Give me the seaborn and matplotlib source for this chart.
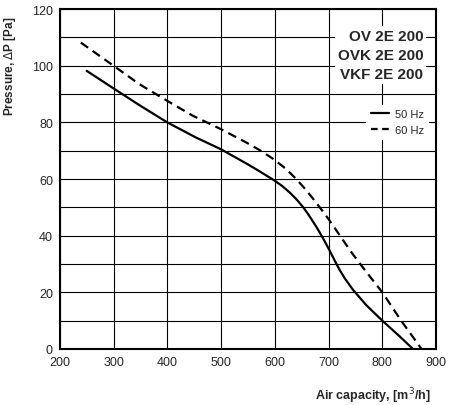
import pandas as pd
import seaborn as sns
import matplotlib.pyplot as plt
from matplotlib.ticker import MultipleLocator
from matplotlib.lines import Line2D

# Kurvendaten
flow_50 = [250, 300, 348, 400, 453, 500, 547, 572, 600, 614, 628, 640, 653, 662,
           671, 679, 687, 694, 701, 708, 715, 721, 730, 745, 770, 800, 832, 857]
pres_50 = [98.2, 92.0, 86.1, 80.0, 74.7, 70.5, 65.5, 62.7, 59.4, 57.5, 55.2, 52.9,
           50.0, 47.6, 45.0, 42.6, 40.0, 37.6, 35.1, 32.5, 29.9, 27.8, 25.0, 21.0,
           15.5, 10.0, 4.5, 0]
flow_60 = [239, 300, 348, 400, 447, 500, 547, 572, 598, 620, 640, 656, 671, 686,
           701, 714, 727, 745, 767, 800, 835, 873]
pres_60 = [108.2, 100.0, 93.5, 87.6, 82.4, 77.6, 72.9, 70.2, 67.0, 63.7, 60.0, 56.6,
           53.1, 49.4, 45.6, 42.0, 38.4, 33.5, 28.0, 20.0, 10.0, 0]
series_names = ["50 Hz", "60 Hz"]
model_names = ["OV 2E 200", "OVK 2E 200", "VKF 2E 200"]

df = pd.concat([
    pd.DataFrame({"flow": flow_50, "pressure": pres_50, "freq": series_names[0]}),
    pd.DataFrame({"flow": flow_60, "pressure": pres_60, "freq": series_names[1]}),
])

sns.set_style("white")
plt.rcParams["font.family"] = ["Liberation Sans", "DejaVu Sans"]

fig = plt.figure(figsize=(4.5, 4.06), dpi=100)
ax = fig.add_axes([0.133, 0.138, 0.836, 0.837])

sns.lineplot(data=df, x="flow", y="pressure", hue="freq", style="freq",
             palette=["black", "black"], dashes=[(None, None), (4, 2.5)],
             linewidth=1.6, sort=False, ax=ax, legend=False)
for ln in ax.get_lines():
    ln.set_solid_joinstyle("round")
    ln.set_dash_joinstyle("round")

ax.set_xlim(200, 900)
ax.set_ylim(0, 120)
ax.xaxis.set_major_locator(MultipleLocator(100))
ax.yaxis.set_major_locator(MultipleLocator(20))
ax.yaxis.set_minor_locator(MultipleLocator(10))
ax.grid(True, which="both", color="black", linewidth=0.8)
ax.set_axisbelow(True)
for s in ax.spines.values():
    s.set_color("black")
    s.set_linewidth(1.5)
ax.tick_params(axis="both", which="major", direction="out", length=3,
               width=1, labelsize=9, color="black", pad=2)
ax.tick_params(axis="y", which="minor", length=0)

ax.set_xlabel("Air capacity, [m$^3$/h]", fontsize=9, fontweight="bold")
ax.xaxis.set_label_coords(0.985, -0.108)
ax.xaxis.label.set_horizontalalignment("right")
ax.set_ylabel("Pressure, $\\Delta$P [Pa]", fontsize=8.5, fontweight="bold")
ax.yaxis.set_label_coords(-0.112, 0.835)

ax.text(0.966, 0.865, "\n".join(model_names), transform=ax.transAxes,
        ha="right", va="center", fontsize=11, fontweight="bold",
        linespacing=1.45, bbox=dict(facecolor="white", edgecolor="none", pad=2))

# Legende
handles = [Line2D([], [], color="black", lw=1.6),
           Line2D([], [], color="black", lw=1.6, dashes=(3, 2))]
leg = ax.legend(handles, series_names, loc="upper right", bbox_to_anchor=(0.995, 0.735),
                frameon=True, fontsize=8, handlelength=1.7, handletextpad=0.5,
                borderpad=0.4, labelspacing=0.55, fancybox=False)
leg.get_frame().set_edgecolor("none")
leg.get_frame().set_facecolor("white")
leg.get_frame().set_alpha(1)

plt.savefig("out.png", dpi=100)
